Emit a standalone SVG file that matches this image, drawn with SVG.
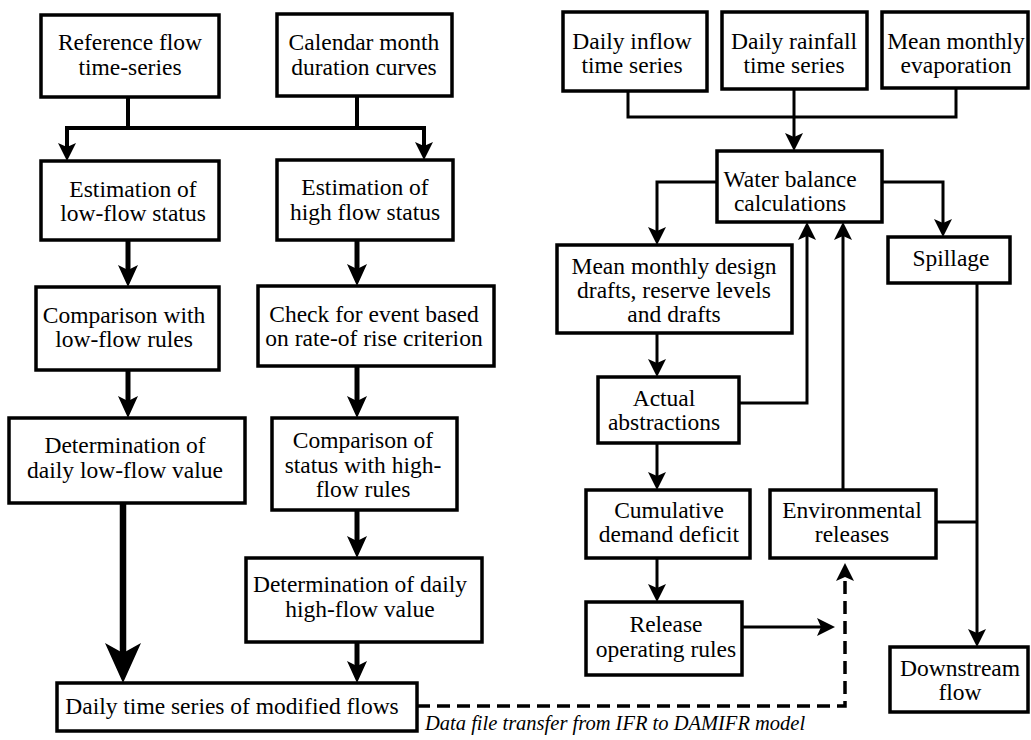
<svg xmlns="http://www.w3.org/2000/svg" width="1031" height="740" viewBox="0 0 1031 740" font-family="'Liberation Serif', 'Times New Roman', serif">
<style>
.box{fill:#fff;stroke:#000;stroke-width:3.5}
.t{font-size:23.5px;fill:#000;text-anchor:middle}
.it{font-size:20.5px;font-style:italic;fill:#000}
.c{fill:none;stroke:#000;stroke-width:3}
.c4{fill:none;stroke:#000;stroke-width:4}
.c5{fill:none;stroke:#000;stroke-width:5}
.big{fill:none;stroke:#000;stroke-width:6.5}
.dash{fill:none;stroke:#000;stroke-width:3.5;stroke-dasharray:13 7}
</style>
<defs>
<marker id="a" viewBox="0 0 18 18" refX="10" refY="9" markerWidth="18" markerHeight="18" markerUnits="userSpaceOnUse" orient="auto"><path d="M0,0 L18,9 L0,18 L4,9 Z" fill="#000"/></marker>
<marker id="a2" viewBox="0 0 22 20" refX="12" refY="10" markerWidth="22" markerHeight="20" markerUnits="userSpaceOnUse" orient="auto"><path d="M0,0 L22,10 L0,20 L5,10 Z" fill="#000"/></marker>
<marker id="ab" viewBox="0 0 40 36" refX="24" refY="18" markerWidth="40" markerHeight="36" markerUnits="userSpaceOnUse" orient="auto"><path d="M0,0 L40,18 L0,36 L10,18 Z" fill="#000"/></marker>
</defs>
<g id="connectors">
<path class="c4" d="M128,97 V128"/>
<path class="c4" d="M357,96 V128"/>
<path class="c4" d="M67,128 H424"/>
<path class="c4" d="M67,126 V153" marker-end="url(#a)"/>
<path class="c4" d="M424,126 V152" marker-end="url(#a)"/>
<path class="c5" d="M128,240 V277" marker-end="url(#a2)"/>
<path class="c5" d="M357,240 V276" marker-end="url(#a2)"/>
<path class="c5" d="M128,370 V408" marker-end="url(#a2)"/>
<path class="c5" d="M357,366 V408" marker-end="url(#a2)"/>
<path class="big" d="M123,503 V667" marker-end="url(#ab)"/>
<path class="c5" d="M357,510 V548" marker-end="url(#a2)"/>
<path class="c5" d="M357,642 V673" marker-end="url(#a2)"/>
<path class="dash" d="M417,706 H845 V571" marker-end="url(#a)"/>
<path class="c" d="M628,91 V117 H956 V88"/>
<path class="c" d="M794,89 V143" marker-end="url(#a)"/>
<path class="c" d="M717,182 H657 V237" marker-end="url(#a)"/>
<path class="c" d="M882,182 H943 V229" marker-end="url(#a)"/>
<path class="c" d="M739,403 H807 V230" marker-end="url(#a)"/>
<path class="c" d="M843,490 V230" marker-end="url(#a)"/>
<path class="c" d="M977,283 V639" marker-end="url(#a)"/>
<path class="c" d="M936,522 H977"/>
<path class="c" d="M657,333 V369" marker-end="url(#a)"/>
<path class="c" d="M657,443 V482" marker-end="url(#a)"/>
<path class="c" d="M657,558 V594" marker-end="url(#a)"/>
<path class="c" d="M742,627 H827" marker-end="url(#a)"/>
</g>
<g id="n-ref"><rect class="box" x="41" y="15" width="178" height="82"/><text class="t" x="130" y="50">Reference flow</text><text class="t" x="130" y="75">time-series</text></g>
<g id="n-cal"><rect class="box" x="277" y="14" width="175" height="82"/><text class="t" x="364" y="50">Calendar month</text><text class="t" x="364" y="75">duration curves</text></g>
<g id="n-estlow"><rect class="box" x="41" y="161" width="178" height="79"/><text class="t" x="133" y="197">Estimation of</text><text class="t" x="133" y="221">low-flow status</text></g>
<g id="n-esthigh"><rect class="box" x="277" y="160" width="176" height="80"/><text class="t" x="365" y="195">Estimation of</text><text class="t" x="365" y="220">high flow status</text></g>
<g id="n-cmplow"><rect class="box" x="36" y="287" width="183" height="83"/><text class="t" x="124" y="323">Comparison with</text><text class="t" x="124" y="347">low-flow rules</text></g>
<g id="n-check"><rect class="box" x="258" y="286" width="236" height="80"/><text class="t" x="374" y="322">Check for event based</text><text class="t" x="374" y="346">on rate-of rise criterion</text></g>
<g id="n-detlow"><rect class="box" x="9" y="418" width="236" height="85"/><text class="t" x="125" y="453">Determination of</text><text class="t" x="125" y="478">daily low-flow value</text></g>
<g id="n-cmphigh"><rect class="box" x="272" y="418" width="185" height="92"/><text class="t" x="363" y="448">Comparison of</text><text class="t" x="363" y="473">status with high-</text><text class="t" x="363" y="497">flow rules</text></g>
<g id="n-dethigh"><rect class="box" x="246" y="558" width="236" height="84"/><text class="t" x="360" y="592">Determination of daily</text><text class="t" x="360" y="617">high-flow value</text></g>
<g id="n-daily"><rect class="box" x="57" y="683" width="360" height="48"/><text class="t" x="232" y="714">Daily time series of modified flows</text></g>
<g id="n-inflow"><rect class="box" x="563" y="12" width="144" height="79"/><text class="t" x="632" y="49">Daily inflow</text><text class="t" x="632" y="73">time series</text></g>
<g id="n-rain"><rect class="box" x="722" y="12" width="145" height="77"/><text class="t" x="794" y="49">Daily rainfall</text><text class="t" x="794" y="73">time series</text></g>
<g id="n-evap"><rect class="box" x="882" y="12" width="146" height="76"/><text class="t" x="956" y="49">Mean monthly</text><text class="t" x="956" y="73">evaporation</text></g>
<g id="n-water"><rect class="box" x="717" y="151" width="165" height="71"/><text class="t" x="790" y="187">Water balance</text><text class="t" x="790" y="211">calculations</text></g>
<g id="n-design"><rect class="box" x="557" y="245" width="235" height="88"/><text class="t" x="674" y="274">Mean monthly design</text><text class="t" x="674" y="298">drafts, reserve levels</text><text class="t" x="674" y="322">and drafts</text></g>
<g id="n-spill"><rect class="box" x="888" y="237" width="122" height="46"/><text class="t" x="951" y="266">Spillage</text></g>
<g id="n-actual"><rect class="box" x="598" y="377" width="141" height="66"/><text class="t" x="664" y="406">Actual</text><text class="t" x="664" y="430">abstractions</text></g>
<g id="n-cumul"><rect class="box" x="586" y="490" width="164" height="68"/><text class="t" x="669" y="518">Cumulative</text><text class="t" x="669" y="542">demand deficit</text></g>
<g id="n-env"><rect class="box" x="770" y="490" width="166" height="68"/><text class="t" x="852" y="518">Environmental</text><text class="t" x="852" y="542">releases</text></g>
<g id="n-release"><rect class="box" x="586" y="602" width="156" height="73"/><text class="t" x="666" y="632">Release</text><text class="t" x="666" y="657">operating rules</text></g>
<g id="n-down"><rect class="box" x="890" y="647" width="138" height="65"/><text class="t" x="960" y="676">Downstream</text><text class="t" x="960" y="700">flow</text></g>
<text class="it" x="425" y="730">Data file transfer from IFR to DAMIFR model</text>
</svg>
